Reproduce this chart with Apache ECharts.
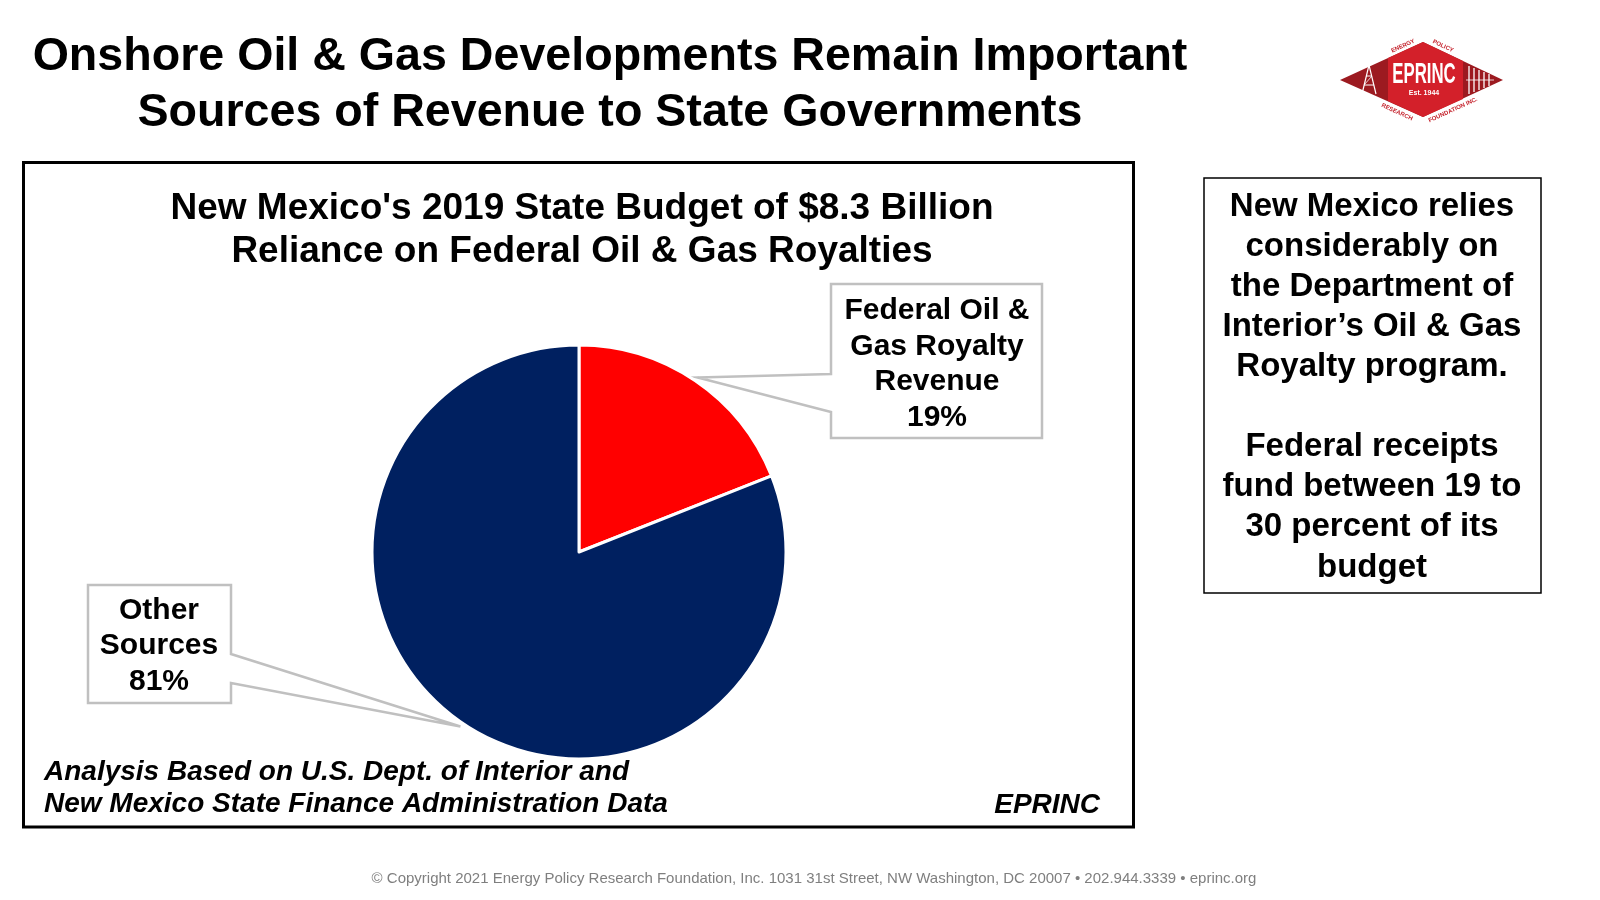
<!DOCTYPE html>
<html>
<head>
<meta charset="utf-8">
<script src="https://cdn.jsdelivr.net/npm/echarts@6/dist/echarts.min.js"></script>
<style>
html,body{margin:0;padding:0;background:#fff;}
#main{width:1600px;height:900px;}
</style>
</head>
<body>
<div id="main"></div>
<script>
// ---------- DATA ----------
const categories = ['Federal Oil & Gas Royalty Revenue', 'Other Sources'];
const labelNameLines = [['Federal Oil &', 'Gas Royalty', 'Revenue'], ['Other', 'Sources']];
const shares = [19, 81];
const sliceColors = ['#ff0000', '#002060'];

const mainTitleLines = ['Onshore Oil & Gas Developments Remain Important', 'Sources of Revenue to State Governments'];
const chartTitleLines = ["New Mexico's 2019 State Budget of $8.3 Billion", 'Reliance on Federal Oil & Gas Royalties'];
const sideNoteLines = ['New Mexico relies', 'considerably on', 'the Department of', 'Interior\u2019s Oil & Gas', 'Royalty program.', '', 'Federal receipts', 'fund between 19 to', '30 percent of its', 'budget'];
const sourceLines = ['Analysis Based on U.S. Dept. of Interior and', 'New Mexico State Finance Administration Data'];
const brandText = 'EPRINC';
const footerText = '\u00A9 Copyright 2021 Energy Policy Research Foundation, Inc. 1031 31st Street, NW Washington, DC 20007 \u2022 202.944.3339 \u2022 eprinc.org';

// ---------- LAYOUT ----------
const FONT = '"Liberation Sans", Arial, Helvetica, sans-serif';
const PIE_C = [579, 552];
const PIE_R = 207;
const LABEL_POS = [[937, 364], [159, 646]];
const CALLOUTS = [
  {box: {l: 831, t: 284, r: 1042, b: 438}, side: 'left', y1: 374, y2: 412},
  {box: {l: 88, t: 585, r: 231, b: 703}, side: 'right', y1: 654, y2: 683}
];

const chart = echarts.init(document.getElementById('main'), null, {renderer: 'canvas'});

// tips of callouts at middle angle of each slice
const total = shares.reduce((a, b) => a + b, 0);
let cum = 0;
const tips = shares.map(v => {
  const a = (cum + v / 2) / total * Math.PI * 2;
  cum += v;
  const rt = PIE_R + 4;
  return [PIE_C[0] + rt * Math.sin(a), PIE_C[1] - rt * Math.cos(a)];
});

function calloutPoints(c, tip) {
  const b = c.box;
  if (c.side === 'left') {
    return [[b.l, b.t], [b.r, b.t], [b.r, b.b], [b.l, b.b], [b.l, c.y2], tip, [b.l, c.y1]];
  }
  return [[b.l, b.t], [b.r, b.t], [b.r, c.y1], tip, [b.r, c.y2], [b.r, b.b], [b.l, b.b]];
}

const graphics = [];

// main title
graphics.push({
  type: 'text', z: 5,
  style: {text: mainTitleLines.join('\n'), x: 610, y: 85, font: 'bold 46.6px ' + FONT, fill: '#000',
    textAlign: 'center', textVerticalAlign: 'middle', lineHeight: 56}
});

// frame
graphics.push({
  type: 'rect', z: 0,
  shape: {x: 23.5, y: 162.5, width: 1110, height: 664.5},
  style: {fill: 'none', stroke: '#000', lineWidth: 3}
});

// chart title
graphics.push({
  type: 'text', z: 5,
  style: {text: chartTitleLines.join('\n'), x: 582, y: 230, font: 'bold 37px ' + FONT, fill: '#000',
    textAlign: 'center', textVerticalAlign: 'middle', lineHeight: 43}
});

// callouts
CALLOUTS.forEach((c, i) => {
  graphics.push({
    type: 'polygon', z: 1,
    shape: {points: calloutPoints(c, tips[i])},
    style: {fill: '#fff', stroke: '#c0c0c0', lineWidth: 2.5, lineJoin: 'miter'}
  });
});

// source text
graphics.push({
  type: 'text', z: 5,
  style: {text: sourceLines.join('\n'), x: 44, y: 788, font: 'italic bold 28px ' + FONT, fill: '#000',
    textAlign: 'left', textVerticalAlign: 'middle', lineHeight: 32}
});
graphics.push({
  type: 'text', z: 5,
  style: {text: brandText, x: 1100, y: 805, font: 'italic bold 28px ' + FONT, fill: '#000',
    textAlign: 'right', textVerticalAlign: 'middle'}
});

// side note box
graphics.push({
  type: 'rect', z: 0,
  shape: {x: 1204, y: 178, width: 337, height: 415},
  style: {fill: '#fff', stroke: '#000', lineWidth: 1.5}
});
graphics.push({
  type: 'text', z: 5,
  style: {text: sideNoteLines.join('\n'), x: 1372, y: 387, font: 'bold 33px ' + FONT, fill: '#000',
    textAlign: 'center', textVerticalAlign: 'middle', lineHeight: 40.1}
});

// footer
graphics.push({
  type: 'text', z: 5,
  style: {text: footerText, x: 814, y: 879, font: '15px ' + FONT, fill: '#7f7f7f',
    textAlign: 'center', textVerticalAlign: 'middle'}
});

// logo
const logo = [];
logo.push({type: 'polygon', shape: {points: [[1340, 80], [1423, 42], [1503, 80], [1423, 117]]},
  style: {fill: '#9c1a20'}});
logo.push({type: 'polygon', shape: {points: [[1388, 58], [1423, 42], [1463, 61], [1463, 99], [1423, 117], [1388, 101]]},
  style: {fill: '#d3202a'}});
logo.push({type: 'text', style: {text: 'EPRINC', x: 0, y: 0, font: 'bold 30px ' + FONT, fill: '#fff',
  textAlign: 'center', textVerticalAlign: 'middle'}, x: 1424, y: 75, scaleX: 0.56});
logo.push({type: 'text', style: {text: 'Est. 1944', x: 1424, y: 93, font: 'bold 7px ' + FONT, fill: '#fff',
  textAlign: 'center', textVerticalAlign: 'middle'}});
// derrick
logo.push({type: 'polyline', shape: {points: [[1362, 94], [1369, 65], [1376, 94]]}, style: {stroke: '#fff', lineWidth: 1.2, fill: 'none'}});
logo.push({type: 'line', shape: {x1: 1364, y1: 85, x2: 1374, y2: 85}, style: {stroke: '#fff', lineWidth: 1}});
logo.push({type: 'line', shape: {x1: 1366, y1: 76, x2: 1372, y2: 76}, style: {stroke: '#fff', lineWidth: 1}});
logo.push({type: 'line', shape: {x1: 1364, y1: 85, x2: 1372, y2: 76}, style: {stroke: '#fff', lineWidth: 0.8}});
// bars on right wing
[1469, 1474, 1479, 1484, 1489].forEach((x, i) => {
  logo.push({type: 'line', shape: {x1: x, y1: 66 + i * 2, x2: x, y2: 94 - i * 2}, style: {stroke: '#fff', lineWidth: 1.3}});
});
logo.push({type: 'line', shape: {x1: 1466, y1: 80, x2: 1494, y2: 80}, style: {stroke: '#fff', lineWidth: 0.8}});
// small ring words
const ang = 0.43;
logo.push({type: 'text', x: 1403, y: 46, rotation: ang, style: {text: 'ENERGY', x: 0, y: 0, font: 'bold 6px ' + FONT, fill: '#c4202a', textAlign: 'center', textVerticalAlign: 'middle'}});
logo.push({type: 'text', x: 1443, y: 46, rotation: -ang, style: {text: 'POLICY', x: 0, y: 0, font: 'bold 6px ' + FONT, fill: '#c4202a', textAlign: 'center', textVerticalAlign: 'middle'}});
logo.push({type: 'text', x: 1397, y: 112, rotation: -ang, style: {text: 'RESEARCH', x: 0, y: 0, font: 'bold 6px ' + FONT, fill: '#c4202a', textAlign: 'center', textVerticalAlign: 'middle'}});
logo.push({type: 'text', x: 1453, y: 110, rotation: ang, style: {text: 'FOUNDATION INC.', x: 0, y: 0, font: 'bold 6px ' + FONT, fill: '#c4202a', textAlign: 'center', textVerticalAlign: 'middle'}});
graphics.push({type: 'group', z: 5, children: logo});

chart.setOption({
  backgroundColor: '#ffffff',
  animation: false,
  graphic: {elements: graphics},
  series: [{
    type: 'pie',
    z: 3,
    center: PIE_C,
    radius: PIE_R,
    startAngle: 90,
    clockwise: true,
    avoidLabelOverlap: false,
    itemStyle: {borderColor: '#ffffff', borderWidth: 3},
    emphasis: {disabled: true},
    label: {
      show: true,
      position: 'outside',
      formatter: p => labelNameLines[p.dataIndex].join('\n') + '\n' + p.value + '%',
      fontFamily: FONT,
      fontWeight: 'bold',
      fontSize: 30,
      lineHeight: 35.5,
      color: '#000',
      align: 'center'
    },
    labelLine: {show: false},
    labelLayout: p => ({x: LABEL_POS[p.dataIndex][0], y: LABEL_POS[p.dataIndex][1], align: 'center', verticalAlign: 'middle'}),
    data: categories.map((c, i) => ({name: c, value: shares[i], itemStyle: {color: sliceColors[i]}}))
  }]
});
</script>
</body>
</html>
